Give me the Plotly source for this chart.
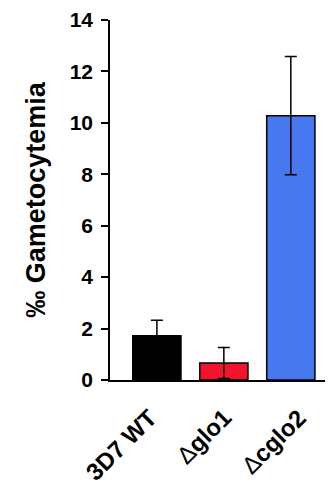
import plotly.graph_objects as go

categories = ["3D7 WT", "glo1", "cglo2"]
tick_labels = ["<b>3D7 WT</b>", "Δ<b>glo1</b>", "Δ<b>cglo2</b>"]
values = [1.72, 0.66, 10.28]
errors = [0.6, 0.6, 2.3]
colors = ["#000000", "#F2132E", "#4878F0"]
y_ticks = [0, 2, 4, 6, 8, 10, 12, 14]

# horizontal offsets (px) of the rotated category labels
label_dx = [8, 15, 23]

fig = go.Figure()
fig.add_trace(go.Bar(
    x=categories, y=values,
    marker=dict(color=colors, line=dict(color="#000000", width=1.5)),
    width=0.72,
    error_y=dict(type="data", array=errors, visible=True, color="#000000",
                 thickness=1.5, width=6),
))

for cat, lab, dx in zip(categories, tick_labels, label_dx):
    fig.add_annotation(
        x=cat, y=0, xref="x", yref="y", text=lab, showarrow=False,
        textangle=315, xanchor="right", yanchor="top",
        xshift=dx, yshift=-21,
        font=dict(size=24, color="#000000",
                  family="Liberation Sans, Arial, sans-serif"),
    )

# the page body has an 8px margin, so the figure is shrunk by 8px and margins shifted
fig.update_layout(
    width=325, height=476,
    margin=dict(l=102, r=0, t=12, b=104, autoexpand=False),
    plot_bgcolor="white", paper_bgcolor="white",
    showlegend=False,
    font=dict(family="Liberation Sans, Arial, sans-serif", color="#000000"),
    xaxis=dict(
        range=[-0.7, 2.63], type="category", showticklabels=False,
        showline=True, linecolor="#000000", linewidth=1.5,
        ticks="", showgrid=False, zeroline=False, automargin=False,
    ),
    yaxis=dict(
        range=[0, 14], tickvals=y_ticks,
        ticktext=[f"<b>{v}</b>" for v in y_ticks],
        tickfont=dict(size=21),
        ticks="outside", ticklen=7, tickwidth=1.5, tickcolor="#000000",
        ticklabelstandoff=4,
        showline=True, linecolor="#000000", linewidth=1.5,
        showgrid=False, zeroline=False, automargin=False,
        title=dict(text="<b>‰ Gametocytemia</b>", font=dict(size=27), standoff=16),
    ),
)

fig.write_html("out.html")
